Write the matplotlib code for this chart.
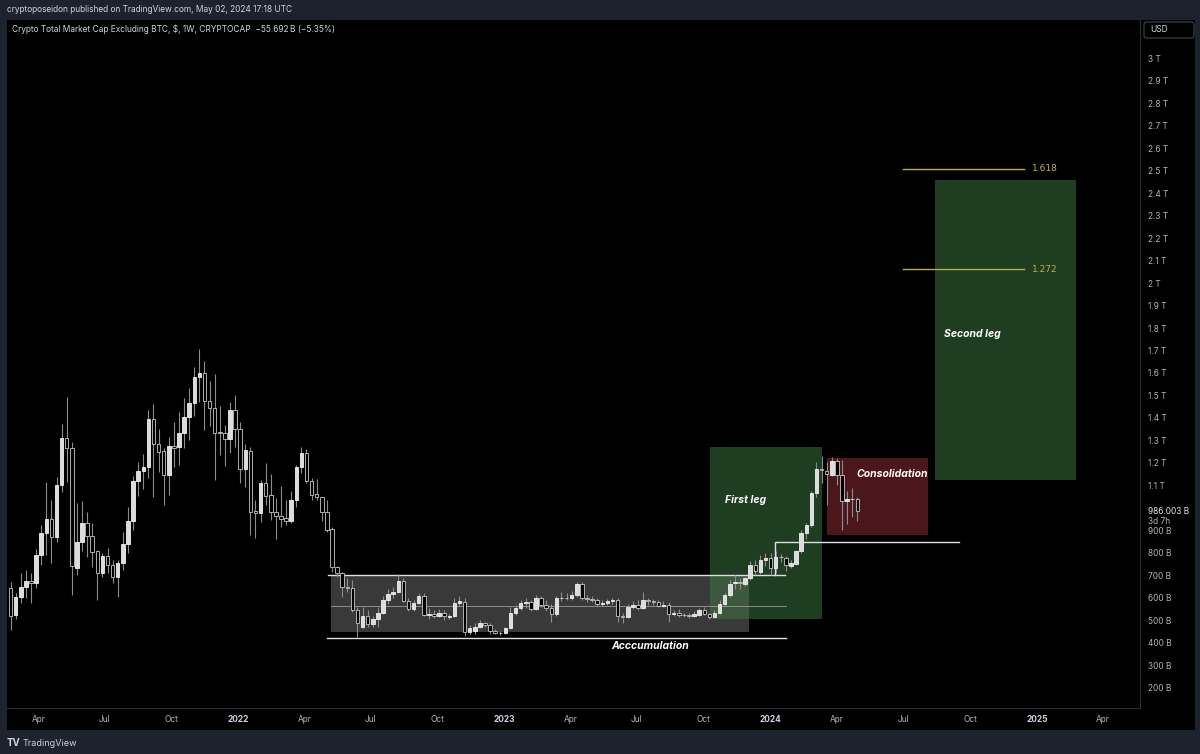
import numpy as np
import pandas as pd
import matplotlib
matplotlib.use('Agg')
import matplotlib.pyplot as plt
import matplotlib.dates as mdates
import matplotlib.transforms as mtrans
from matplotlib.patches import Rectangle, FancyBboxPatch

plt.rcParams['font.family'] = ['Inter', 'DejaVu Sans']

# weekly candles, values in billions USD
dates = pd.date_range('2021-02-22', periods=167, freq='7D')
opens = [643, 523, 603, 650, 677, 666, 791, 887, 951, 872, 1102, 1310, 1265, 735, 850, 935, 876, 810, 713, 787,
         747, 692, 754, 840, 940, 1121, 1166, 1184, 1397, 1284, 1253, 1147, 1276, 1273, 1332, 1403, 1468, 1580, 1598, 1475,
         1446, 1339, 1332, 1305, 1435, 1350, 1172, 1253, 987, 976, 1109, 1058, 984, 964, 954, 944, 1036, 1181, 1243, 1121,
         1061, 1047, 984, 905, 736, 710, 650, 643, 547, 470, 520, 485, 505, 535, 591, 618, 628, 677, 588, 550,
         579, 609, 524, 530, 522, 535, 515, 520, 576, 583, 450, 455, 472, 487, 478, 452, 446, 443, 465, 535,
         554, 576, 583, 550, 598, 570, 555, 530, 598, 602, 600, 612, 660, 600, 595, 592, 575, 578, 585, 590,
         520, 515, 558, 570, 555, 590, 585, 580, 565, 570, 530, 532, 525, 523, 520, 525, 545, 530, 515, 535,
         573, 613, 668, 671, 662, 687, 747, 717, 769, 776, 735, 783, 776, 742, 751, 810, 890, 924, 1065, 1172,
         1164, 1147, 1210, 1147, 1031, 1039, 1042]
highs = [672, 621, 710, 724, 710, 816, 924, 1117, 1036, 1139, 1373, 1492, 1295, 1021, 1032, 981, 935, 813, 801, 821,
         769, 769, 895, 1003, 1142, 1206, 1240, 1435, 1461, 1350, 1265, 1317, 1381, 1428, 1488, 1532, 1625, 1707, 1654, 1566,
         1595, 1452, 1369, 1473, 1502, 1384, 1284, 1273, 1036, 1124, 1201, 1151, 1043, 1098, 1036, 1077, 1191, 1270, 1261, 1132,
         1128, 1050, 1036, 914, 742, 717, 690, 680, 561, 560, 545, 520, 560, 610, 640, 650, 705, 690, 600, 590,
         621, 620, 555, 545, 550, 545, 530, 600, 610, 600, 480, 490, 500, 495, 490, 460, 452, 470, 560, 570,
         590, 600, 590, 615, 610, 590, 575, 610, 625, 620, 630, 670, 670, 615, 610, 600, 590, 595, 600, 600,
         535, 575, 585, 590, 625, 600, 595, 590, 585, 580, 545, 550, 535, 535, 540, 555, 560, 535, 545, 590,
         620, 680, 700, 690, 695, 765, 770, 790, 800, 800, 810, 795, 785, 770, 815, 900, 935, 1075, 1206, 1230,
         1205, 1225, 1222, 1213, 1075, 1087, 1050]
lows = [458, 505, 576, 599, 576, 643, 747, 791, 757, 850, 1072, 1117, 613, 700, 810, 783, 739, 591, 695, 710,
        665, 606, 724, 801, 902, 1053, 1083, 1132, 1050, 1161, 1013, 1058, 1184, 1191, 1265, 1302, 1409, 1473, 1347, 1364,
        1124, 1235, 1187, 1243, 1273, 1110, 1095, 880, 865, 939, 1013, 947, 861, 914, 924, 932, 1006, 1154, 1112, 1036,
        1036, 944, 895, 717, 692, 606, 625, 539, 428, 465, 470, 470, 470, 530, 575, 600, 620, 580, 540, 540,
        575, 520, 505, 510, 515, 500, 505, 515, 565, 430, 440, 440, 465, 470, 440, 438, 435, 438, 460, 525,
        545, 555, 540, 545, 560, 540, 495, 520, 585, 590, 590, 605, 590, 580, 580, 565, 565, 568, 575, 495,
        490, 510, 550, 548, 550, 570, 570, 560, 560, 495, 520, 515, 515, 512, 515, 518, 525, 505, 510, 530,
        565, 605, 640, 640, 655, 680, 700, 705, 740, 700, 710, 760, 720, 735, 745, 800, 860, 915, 1050, 1110,
        1015, 1140, 1100, 900, 930, 960, 940]
closes = [520, 603, 650, 677, 666, 791, 887, 951, 872, 1102, 1310, 1265, 740, 850, 935, 876, 806, 713, 787, 747,
          692, 754, 840, 940, 1121, 1164, 1181, 1397, 1284, 1250, 1147, 1276, 1265, 1332, 1403, 1468, 1580, 1598, 1477, 1446,
          1335, 1332, 1305, 1435, 1350, 1172, 1258, 984, 976, 1112, 1053, 984, 964, 951, 942, 1036, 1181, 1243, 1121, 1058,
          1050, 984, 902, 736, 713, 650, 643, 547, 488, 520, 485, 505, 535, 591, 618, 628, 677, 588, 550, 579,
          609, 524, 530, 522, 535, 522, 520, 576, 585, 450, 465, 472, 487, 478, 452, 446, 443, 465, 535, 554,
          576, 583, 550, 598, 570, 555, 530, 598, 602, 600, 612, 660, 600, 595, 592, 575, 578, 585, 590, 520,
          515, 560, 570, 555, 590, 585, 580, 565, 570, 530, 532, 525, 523, 520, 530, 545, 530, 515, 535, 573,
          613, 662, 671, 665, 687, 747, 720, 769, 776, 735, 783, 780, 747, 757, 810, 890, 924, 1065, 1172, 1168,
          1150, 1210, 1147, 1031, 1039, 1042, 986]

price_ticks = [v for v in range(200, 3001, 100) if v != 1000]
quarter_ticks = pd.date_range('2021-04-01', '2025-04-01', freq='QS')

BG = '#1e222d'
W, H = 1200, 754
fig = plt.figure(figsize=(12, 7.54), dpi=100, facecolor=BG)

# black chart frame (pane + scales)
frame = fig.add_axes([7 / W, (754 - 730) / H, 1188 / W, 710 / H], zorder=-5)
frame.set_facecolor('black')
frame.set_xticks([])
frame.set_yticks([])
for s in frame.spines.values():
    s.set_visible(False)

ax = fig.add_axes([7 / W, (754 - 708) / H, 1133 / W, 688 / H], zorder=1)
ax.set_facecolor('black')
ax.set_xlim(mdates.date2num(pd.Timestamp('2021-02-17')), mdates.date2num(pd.Timestamp('2025-05-22')))
ax.set_ylim(111, 3169)

# candles
x = mdates.date2num(dates)
o = np.array(opens, float)
h = np.array(highs, float)
l = np.array(lows, float)
c = np.array(closes, float)
up = c >= o
ax.vlines(x, l, h, color='#8c8c8c', lw=0.8, zorder=3)
ax.bar(x[up], np.maximum(c - o, 2)[up], bottom=o[up], width=4.8, color='#dcdcdc',
       edgecolor='#f0f0f0', lw=0.6, zorder=4)
ax.bar(x[~up], np.maximum(o - c, 2)[~up], bottom=c[~up], width=4.8, color='black',
       edgecolor='#c8c8c8', lw=0.6, zorder=4)

d = lambda s: mdates.date2num(pd.Timestamp(s))

# accumulation range
ax.add_patch(Rectangle((d('2022-05-08'), 449), d('2023-12-03') - d('2022-05-08'), 698 - 449,
                       facecolor='#808080', alpha=0.45, edgecolor='none', zorder=1))
ax.plot([d('2022-05-04'), d('2024-01-21')], [702, 702], color='#e0e0e0', lw=1.0, zorder=2)
ax.plot([d('2022-05-08'), d('2024-01-22')], [564, 564], color='#9a9a9a', lw=0.6, zorder=2)
ax.plot([d('2022-05-02'), d('2024-01-22')], [422, 422], color='#e0e0e0', lw=1.0, zorder=2)
ax.text(d('2023-07-20'), 387, 'Acccumulation', color='white', fontsize=7.5, fontweight='bold',
        fontstyle='italic', ha='center', va='center', zorder=5)

# first leg
ax.add_patch(Rectangle((d('2023-10-10'), 507), d('2024-03-11') - d('2023-10-10'), 1271 - 507,
                       facecolor='#3f7a41', alpha=0.5, edgecolor='none', zorder=1))
ax.text(d('2023-11-27'), 1036, 'First leg', color='white', fontsize=7.5, fontweight='bold',
        fontstyle='italic', ha='center', va='center', zorder=5)

# breakout step line
ax.plot([d('2024-01-07'), d('2024-01-07'), d('2024-09-15')], [702, 849, 849], color='#e0e0e0', lw=1.0, zorder=2)

# consolidation
ax.add_patch(Rectangle((d('2024-03-18'), 880), d('2024-08-04') - d('2024-03-18'), 1222 - 880,
                       facecolor='#962f35', alpha=0.5, edgecolor='none', zorder=1))
ax.text(d('2024-06-16'), 1151, 'Consolidation', color='white', fontsize=7.5, fontweight='bold',
        fontstyle='italic', ha='center', va='center', zorder=5)

# second leg
ax.add_patch(Rectangle((d('2024-08-14'), 1124), d('2025-02-23') - d('2024-08-14'), 2458 - 1124,
                       facecolor='#3f7a41', alpha=0.5, edgecolor='none', zorder=1))
ax.text(d('2024-10-04'), 1773, 'Second leg', color='white', fontsize=7.5, fontweight='bold',
        fontstyle='italic', ha='center', va='center', zorder=5)

# fib extension levels
for lvl, val in [('1.618', 2507), ('1.272', 2062)]:
    ax.plot([d('2024-07-01'), d('2024-12-14')], [val, val], color='#b8b24c', lw=1.0, zorder=2)
    ax.text(d('2024-12-25'), val, lvl, color='#b8b24c', fontsize=6.5, ha='left', va='center',
            family=['DejaVu Sans'], zorder=5)

# axes styling
for s in ['top', 'left']:
    ax.spines[s].set_visible(False)
ax.spines['right'].set_color('#2a2e39')
ax.spines['bottom'].set_color('#2a2e39')
ax.yaxis.tick_right()
ax.set_yticks(price_ticks)
ax.set_yticklabels([f'{v} B' if v < 1000 else f'{v / 1000:g} T' for v in price_ticks])
ax.tick_params(axis='y', length=0, pad=5.8, labelsize=6, labelcolor='#b2b5be')

ax.set_xticks(mdates.date2num(quarter_ticks))
ax.set_xticklabels([str(t.year) if t.month == 1 else t.strftime('%b') for t in quarter_ticks])
ax.tick_params(axis='x', length=0, pad=5, labelsize=6, labelcolor='#b2b5be')
for lab, t in zip(ax.get_xticklabels(), quarter_ticks):
    if t.month == 1:
        lab.set_fontweight('bold')
        lab.set_color('#d1d4dc')

# last price label
tr = mtrans.blended_transform_factory(ax.transAxes, ax.transData)
ax.text(1 + 8 / 1133, 986, '986.003 B', transform=tr, color='#e8e8e8', fontsize=6,
        ha='left', va='center', clip_on=False)
ax.annotate('3d 7h', xy=(1 + 8 / 1133, 986), xycoords=tr, xytext=(0, -7.5), textcoords='offset points',
            color='#b2b5be', fontsize=6, ha='left', va='center', annotation_clip=False)

# header, legend line, USD button, footer
fig.text(7 / W, 1 - 10 / H, 'cryptoposeidon published on TradingView.com, May 02, 2024 17:18 UTC',
         color='#d1d4dc', fontsize=6, ha='left', va='center')
fig.text(12 / W, 1 - 29 / H, 'Crypto Total Market Cap Excluding BTC, $, 1W, CRYPTOCAP  \u221255.692\u2009B (\u22125.35%)',
         color='#d1d4dc', fontsize=6, ha='left', va='center')
fig.patches.append(FancyBboxPatch((1144 / W, 1 - 38 / H), 50 / W, 16 / H, boxstyle='round,pad=0,rounding_size=0.003',
                                  transform=fig.transFigure, facecolor='black', edgecolor='#434651', lw=0.8))
fig.text(1150 / W, 1 - 30 / H, 'USD', color='#d1d4dc', fontsize=6, ha='left', va='center')
fig.text(7 / W, 1 - 743 / H, 'TV', color='#d1d4dc', fontsize=7, fontweight='bold', ha='left', va='center')
fig.text(23 / W, 1 - 743 / H, 'TradingView', color='#d1d4dc', fontsize=6.5, ha='left', va='center')

fig.savefig('out.png', dpi=100, facecolor=BG)
